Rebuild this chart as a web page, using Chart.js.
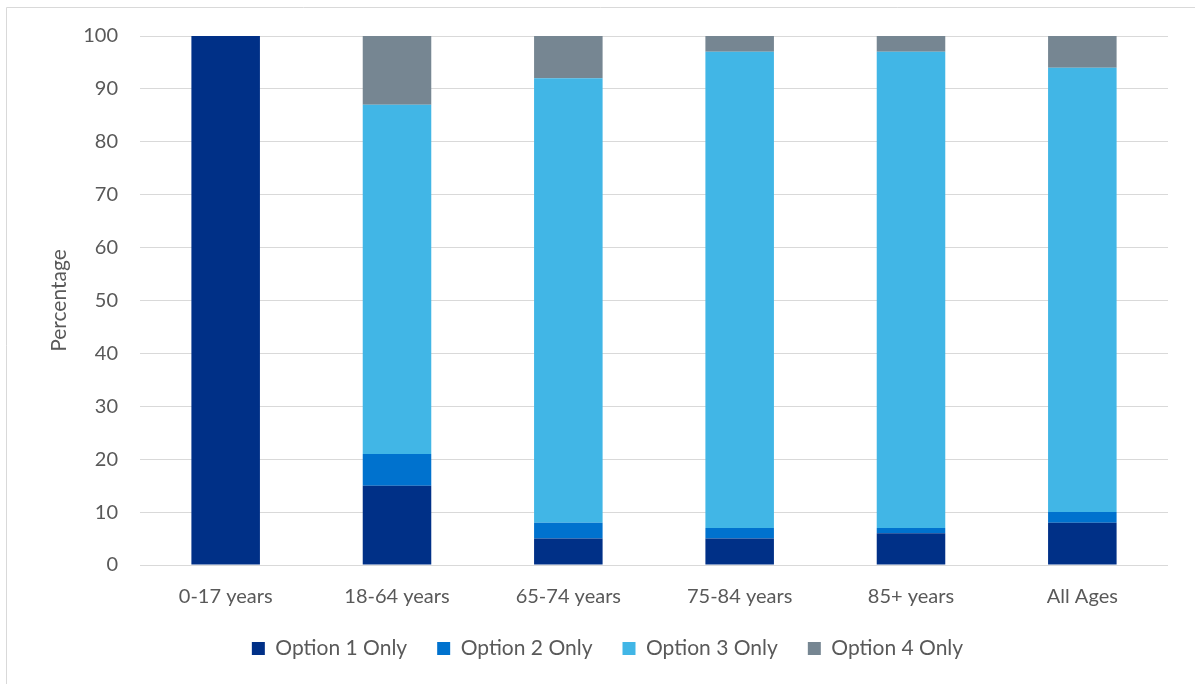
<!DOCTYPE html>
<html>
<head>
<meta charset="utf-8">
<script src="https://cdn.jsdelivr.net/npm/chart.js@4"></script>
<style>
  html, body { margin: 0; padding: 0; background: #ffffff; }
  #wrap { position: relative; width: 1195px; height: 684px; }
</style>
</head>
<body>
<div id="wrap"><canvas id="ageChart" width="1195" height="684"></canvas></div>
<script>
// Grupos de edad y porcentaje de cada opción
const ageGroups = ['0-17 years', '18-64 years', '65-74 years', '75-84 years', '85+ years', 'All Ages'];
const option1 = [100, 15, 5, 5, 6, 8];
const option2 = [0, 6, 3, 2, 1, 2];
const option3 = [0, 66, 84, 90, 90, 84];
const option4 = [0, 13, 8, 3, 3, 6];
const yTicks = [0, 10, 20, 30, 40, 50, 60, 70, 80, 90, 100];

const textColor = '#595959';
const gridColor = '#d9d9d9';
const fontFamily = 'Lato, "Noto Sans", sans-serif';

// Marco gris claro alrededor del gráfico
const framePlugin = {
  id: 'frame',
  beforeDraw(chart) {
    const ctx = chart.ctx;
    ctx.save();
    ctx.strokeStyle = gridColor;
    ctx.lineWidth = 1;
    ctx.beginPath();
    ctx.moveTo(6.5, chart.height);
    ctx.lineTo(6.5, 7.5);
    ctx.lineTo(chart.width, 7.5);
    ctx.stroke();
    ctx.restore();
  }
};

const ctx = document.getElementById('ageChart').getContext('2d');
const ageChart = new Chart(ctx, {
  type: 'bar',
  data: {
    labels: ageGroups,
    datasets: [
      { label: 'Option 1 Only', data: option1, backgroundColor: '#003087' },
      { label: 'Option 2 Only', data: option2, backgroundColor: '#0072CE' },
      { label: 'Option 3 Only', data: option3, backgroundColor: '#41B6E6' },
      { label: 'Option 4 Only', data: option4, backgroundColor: '#768692' }
    ]
  },
  options: {
    responsive: false,
    animation: false,
    barPercentage: 0.8,
    categoryPercentage: 0.5,
    layout: { padding: { left: 47, right: 27, top: 36, bottom: 15 } },
    plugins: {
      legend: {
        position: 'bottom',
        labels: {
          color: textColor,
          font: { family: fontFamily, size: 21 },
          boxWidth: 13,
          boxHeight: 13,
          padding: 30
        }
      },
      tooltip: { enabled: false }
    },
    scales: {
      x: {
        stacked: true,
        // el eje ocupa menos alto; las etiquetas quedan en el hueco de la leyenda
        afterFit(scale) {
          scale.height -= 21;
        },
        grid: { display: false, drawTicks: false },
        border: { display: false },
        ticks: { color: textColor, font: { family: fontFamily, size: 20 }, padding: 20 }
      },
      y: {
        stacked: true,
        min: 0,
        max: 100,
        afterBuildTicks(scale) {
          scale.ticks = yTicks.map(v => ({ value: v }));
        },
        afterFit(scale) {
          scale.width = 93;
        },
        grid: { color: gridColor, lineWidth: 1, drawTicks: false },
        border: { display: false },
        ticks: { color: textColor, font: { family: fontFamily, size: 20 }, padding: 22 },
        title: {
          display: true,
          text: 'Percentage',
          color: textColor,
          font: { family: fontFamily, size: 21 },
          padding: { top: 0, bottom: 0 }
        }
      }
    }
  },
  plugins: [framePlugin]
});
</script>
</body>
</html>
